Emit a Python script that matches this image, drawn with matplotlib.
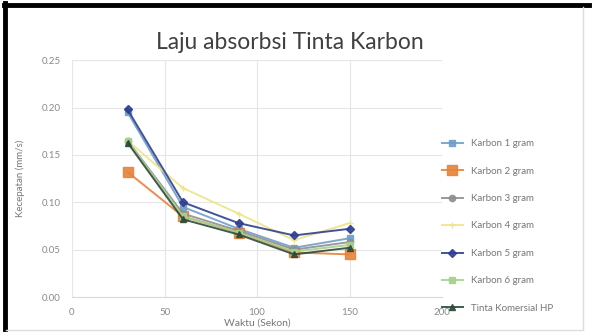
import matplotlib
matplotlib.use('Agg')
import matplotlib.pyplot as plt
from matplotlib.lines import Line2D

plt.rcParams['font.family'] = ['Lato', 'DejaVu Sans']

# data
waktu = [30, 60, 90, 120, 150]
karbon1 = [0.195, 0.095, 0.072, 0.052, 0.062]
karbon2 = [0.132, 0.085, 0.068, 0.047, 0.045]
karbon3 = [0.165, 0.088, 0.070, 0.050, 0.058]
karbon4 = [0.165, 0.115, 0.088, 0.060, 0.078]
karbon5 = [0.198, 0.100, 0.078, 0.065, 0.072]
karbon6 = [0.165, 0.085, 0.068, 0.048, 0.055]
tinta_hp = [0.163, 0.082, 0.066, 0.045, 0.052]

labels = ['Karbon 1 gram', 'Karbon 2 gram', 'Karbon 3 gram', 'Karbon 4 gram',
          'Karbon 5 gram', 'Karbon 6 gram', 'Tinta Komersial HP']
series = [karbon1, karbon2, karbon3, karbon4, karbon5, karbon6, tinta_hp]
colors = ['#6f9fc8', '#e8823a', '#8f8f8f', '#eee48a', '#2f3f8f', '#a8d08d', '#2b4a3a']
markers = ['s', 's', 'o', '+', 'D', 's', '^']
msizes = [4.5, 7, 4.5, 5, 4.5, 4.5, 5]

fig = plt.figure(figsize=(5.95, 3.36), dpi=100)
ax = fig.add_axes([0.121, 0.116, 0.622, 0.705])

for y, lab, c, m, ms in zip(series, labels, colors, markers, msizes):
    ax.plot(waktu, y, color=c, marker=m, markersize=ms, linewidth=1.4,
            label=lab, alpha=0.9)

ax.set_xlim(0, 200)
ax.set_ylim(0, 0.25)
ax.set_xticks([0, 50, 100, 150, 200])
ax.set_yticks([0, 0.05, 0.10, 0.15, 0.20, 0.25])
ax.set_yticklabels(['0.00', '0.05', '0.10', '0.15', '0.20', '0.25'])
ax.grid(True, color='#e6e6e6', linewidth=0.8)
ax.set_axisbelow(True)
for s in ['top', 'right', 'left']:
    ax.spines[s].set_visible(False)
ax.spines['bottom'].set_color('#d9d9d9')
ax.tick_params(length=0, labelsize=7, colors='#8a8a8a', pad=8)

ax.set_title('Laju absorbsi Tinta Karbon', fontsize=16.5, color='#404040', pad=8, x=0.59)
ax.set_xlabel('Waktu (Sekon)', fontsize=7.5, color='#777777', labelpad=1)
ax.set_ylabel('Kecepatan (mm/s)', fontsize=7, color='#777777', labelpad=12)

ax.legend(loc='center left', bbox_to_anchor=(0.975, 0.30), frameon=False,
          fontsize=7, labelcolor='#777777', labelspacing=1.9, handlelength=2.2)

# picture frame
fig.add_artist(Line2D([0.008, 0.008], [0.02, 0.99], color='black', linewidth=3.5))
fig.add_artist(Line2D([0.006, 0.99], [0.985, 0.985], color='black', linewidth=3.5))
fig.add_artist(Line2D([0.98, 0.98], [0.02, 0.98], color='#dddddd', linewidth=1))
fig.add_artist(Line2D([0.01, 0.98], [0.018, 0.018], color='#dddddd', linewidth=1))

fig.savefig('out.png', dpi=100)
